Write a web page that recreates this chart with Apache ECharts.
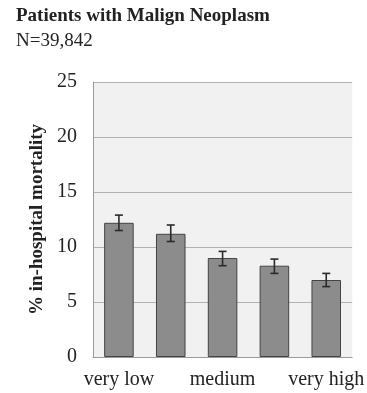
<!DOCTYPE html>
<html>
<head>
<meta charset="utf-8">
<script src="https://cdn.jsdelivr.net/npm/echarts@6/dist/echarts.min.js"></script>
<style>
  html, body { margin: 0; padding: 0; background: #fff; }
  #chart { width: 367px; height: 393px; }
</style>
</head>
<body>
<div id="chart"></div>
<script>
// Mortality by risk category for patients with malignant neoplasm
const categories = ['very low', 'low', 'medium', 'high', 'very high'];
const mortality = [12.2, 11.2, 9.0, 8.3, 7.0];
const ciLow = [11.5, 10.5, 8.3, 7.6, 6.4];
const ciHigh = [12.9, 12.0, 9.6, 8.9, 7.6];
const yTicks = [0, 5, 10, 15, 20, 25];

const serif = '"Liberation Serif", "DejaVu Serif", serif';
const chart = echarts.init(document.getElementById('chart'));

chart.setOption({
  animation: false,
  title: {
    text: 'Patients with Malign Neoplasm',
    subtext: 'N=39,842',
    left: 11,
    top: 2,
    itemGap: 6,
    textStyle: { fontFamily: serif, fontWeight: 'bold', fontSize: 19, color: '#222' },
    subtextStyle: { fontFamily: serif, fontSize: 19, color: '#222' }
  },
  grid: {
    left: 93, right: 12, top: 82, bottom: 36,
    show: true, backgroundColor: '#f1f1f1', borderWidth: 0
  },
  xAxis: {
    type: 'category',
    data: categories,
    axisTick: { show: false },
    axisLine: { lineStyle: { color: '#9a9a9a', width: 1 } },
    axisLabel: {
      interval: 1, margin: 13, fontFamily: serif, fontSize: 20, color: '#222'
    }
  },
  yAxis: {
    type: 'value',
    min: yTicks[0], max: yTicks[yTicks.length - 1], interval: 5,
    name: '% in-hospital mortality',
    nameLocation: 'middle',
    nameGap: 43,
    nameTextStyle: { fontFamily: serif, fontWeight: 'bold', fontSize: 19, color: '#222' },
    axisLine: { show: true, lineStyle: { color: '#9a9a9a', width: 1 } },
    axisTick: { show: false },
    splitLine: { lineStyle: { color: '#b2b2b2', width: 1 } },
    axisLabel: { margin: 16, fontFamily: serif, fontSize: 20, color: '#222' }
  },
  series: [
    {
      type: 'bar',
      data: mortality,
      barWidth: '57%',
      itemStyle: { color: '#8c8c8c', borderColor: '#444', borderWidth: 1 }
    },
    {
      type: 'custom',
      data: categories.map((c, i) => [i, ciLow[i], ciHigh[i]]),
      z: 5,
      renderItem: function (params, api) {
        const lo = api.coord([api.value(0), api.value(1)]);
        const hi = api.coord([api.value(0), api.value(2)]);
        const half = 4;
        const style = { stroke: '#2a2a2a', lineWidth: 1.6 };
        return {
          type: 'group',
          children: [
            { type: 'line', shape: { x1: hi[0], y1: hi[1], x2: lo[0], y2: lo[1] }, style },
            { type: 'line', shape: { x1: hi[0] - half, y1: hi[1], x2: hi[0] + half, y2: hi[1] }, style },
            { type: 'line', shape: { x1: lo[0] - half, y1: lo[1], x2: lo[0] + half, y2: lo[1] }, style }
          ]
        };
      }
    }
  ]
});
</script>
</body>
</html>
